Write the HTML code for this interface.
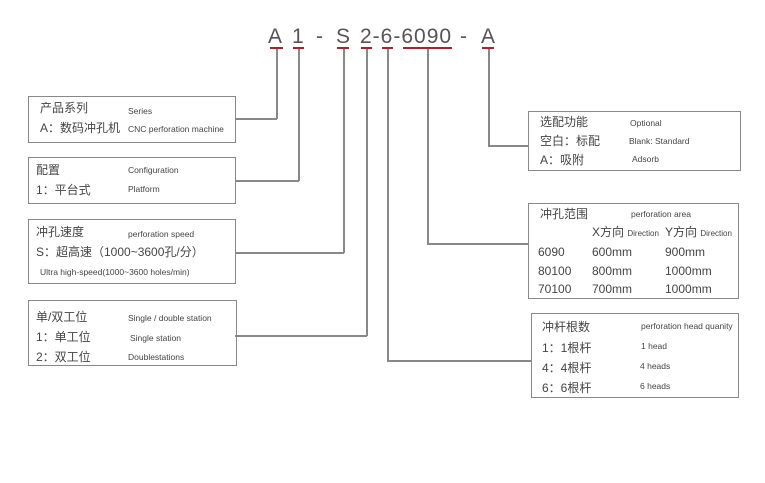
<!DOCTYPE html>
<html><head><meta charset="utf-8"><style>
body{margin:0;width:765px;height:483px;background:#fff;position:relative;overflow:hidden;font-family:"Liberation Sans","Noto Sans CJK SC",sans-serif;color:#444}
.b{position:absolute;border:1.5px solid #888;box-sizing:border-box}
.t{position:absolute;white-space:nowrap;font-size:12px;line-height:14px}
.e{position:absolute;white-space:nowrap;font-size:8.5px;line-height:10px}
.h{position:absolute;font-size:21px;line-height:24px;color:#555;top:25px}
.u{position:absolute;height:2px;background:#a0282c;top:47px}
.l{position:absolute;background:#888}
</style></head><body>
<div class="h" style="left:268px">A</div>
<div class="h" style="left:292px">1</div>
<div class="h" style="left:316px">-</div>
<div class="h" style="left:336px">S</div>
<div class="h" style="left:360px;letter-spacing:1px">2-6-6090</div>
<div class="h" style="left:460px">-</div>
<div class="h" style="left:481px">A</div>
<div class="u" style="left:270px;width:13px"></div>
<div class="u" style="left:293px;width:11px"></div>
<div class="u" style="left:337px;width:12px"></div>
<div class="u" style="left:361px;width:11px"></div>
<div class="u" style="left:382px;width:11px"></div>
<div class="u" style="left:403px;width:49px"></div>
<div class="u" style="left:482px;width:12px"></div>
<!-- connectors -->
<div class="l" style="left:276px;top:49px;width:1.5px;height:70px"></div>
<div class="l" style="left:235px;top:118px;width:42px;height:1.5px"></div>
<div class="l" style="left:298px;top:49px;width:1.5px;height:132px"></div>
<div class="l" style="left:235px;top:180px;width:64px;height:1.5px"></div>
<div class="l" style="left:343px;top:49px;width:1.5px;height:204px"></div>
<div class="l" style="left:235px;top:252px;width:109px;height:1.5px"></div>
<div class="l" style="left:366px;top:49px;width:1.5px;height:287px"></div>
<div class="l" style="left:235px;top:335px;width:132px;height:1.5px"></div>
<div class="l" style="left:387px;top:49px;width:1.5px;height:312px"></div>
<div class="l" style="left:387px;top:360px;width:144px;height:1.5px"></div>
<div class="l" style="left:427px;top:49px;width:1.5px;height:195px"></div>
<div class="l" style="left:427px;top:243px;width:101px;height:1.5px"></div>
<div class="l" style="left:488px;top:49px;width:1.5px;height:97px"></div>
<div class="l" style="left:488px;top:145px;width:40px;height:1.5px"></div>
<!-- box1 -->
<div class="b" style="left:28px;top:96px;width:208px;height:47px"></div>
<div class="t" style="left:40px;top:101px">产品系列</div><div class="e" style="left:128px;top:106px">Series</div>
<div class="t" style="left:40px;top:121px">A：数码冲孔机</div><div class="e" style="left:128px;top:124px">CNC perforation machine</div>
<!-- box2 -->
<div class="b" style="left:28px;top:157px;width:208px;height:47px"></div>
<div class="t" style="left:36px;top:163px">配置</div><div class="e" style="left:128px;top:165px">Configuration</div>
<div class="t" style="left:36px;top:183px">1：平台式</div><div class="e" style="left:128px;top:184px">Platform</div>
<!-- box3 -->
<div class="b" style="left:28px;top:219px;width:208px;height:65px"></div>
<div class="t" style="left:36px;top:225px">冲孔速度</div><div class="e" style="left:128px;top:229px">perforation speed</div>
<div class="t" style="left:36px;top:245px">S：超高速（1000~3600孔/分）</div>
<div class="e" style="left:40px;top:267px">Ultra high-speed(1000~3600 holes/min)</div>
<!-- box4 -->
<div class="b" style="left:28px;top:300px;width:209px;height:66px"></div>
<div class="t" style="left:36px;top:310px">单/双工位</div><div class="e" style="left:128px;top:313px">Single / double station</div>
<div class="t" style="left:36px;top:330px">1：单工位</div><div class="e" style="left:130px;top:333px">Single station</div>
<div class="t" style="left:36px;top:350px">2：双工位</div><div class="e" style="left:128px;top:352px">Doublestations</div>
<!-- box5 -->
<div class="b" style="left:528px;top:111px;width:213px;height:60px"></div>
<div class="t" style="left:540px;top:115px">选配功能</div><div class="e" style="left:630px;top:118px">Optional</div>
<div class="t" style="left:540px;top:134px">空白：标配</div><div class="e" style="left:629px;top:136px">Blank: Standard</div>
<div class="t" style="left:540px;top:153px">A：吸附</div><div class="e" style="left:632px;top:154px">Adsorb</div>
<!-- box6 -->
<div class="b" style="left:528px;top:203px;width:211px;height:96px"></div>
<div class="t" style="left:540px;top:207px">冲孔范围</div><div class="e" style="left:631px;top:209px">perforation area</div>
<div class="t" style="left:592px;top:225px">X方向 <span style="font-size:8px">Direction</span></div>
<div class="t" style="left:665px;top:225px">Y方向 <span style="font-size:8px">Direction</span></div>
<div class="t" style="left:538px;top:245px">6090</div><div class="t" style="left:592px;top:245px">600mm</div><div class="t" style="left:665px;top:245px">900mm</div>
<div class="t" style="left:538px;top:264px">80100</div><div class="t" style="left:592px;top:264px">800mm</div><div class="t" style="left:665px;top:264px">1000mm</div>
<div class="t" style="left:538px;top:282px">70100</div><div class="t" style="left:592px;top:282px">700mm</div><div class="t" style="left:665px;top:282px">1000mm</div>
<!-- box7 -->
<div class="b" style="left:531px;top:313px;width:208px;height:85px"></div>
<div class="t" style="left:542px;top:320px">冲杆根数</div><div class="e" style="left:641px;top:321px">perforation head quanity</div>
<div class="t" style="left:542px;top:341px">1：1根杆</div><div class="e" style="left:641px;top:341px">1 head</div>
<div class="t" style="left:542px;top:361px">4：4根杆</div><div class="e" style="left:640px;top:361px">4 heads</div>
<div class="t" style="left:542px;top:381px">6：6根杆</div><div class="e" style="left:640px;top:381px">6 heads</div>
</body></html>
